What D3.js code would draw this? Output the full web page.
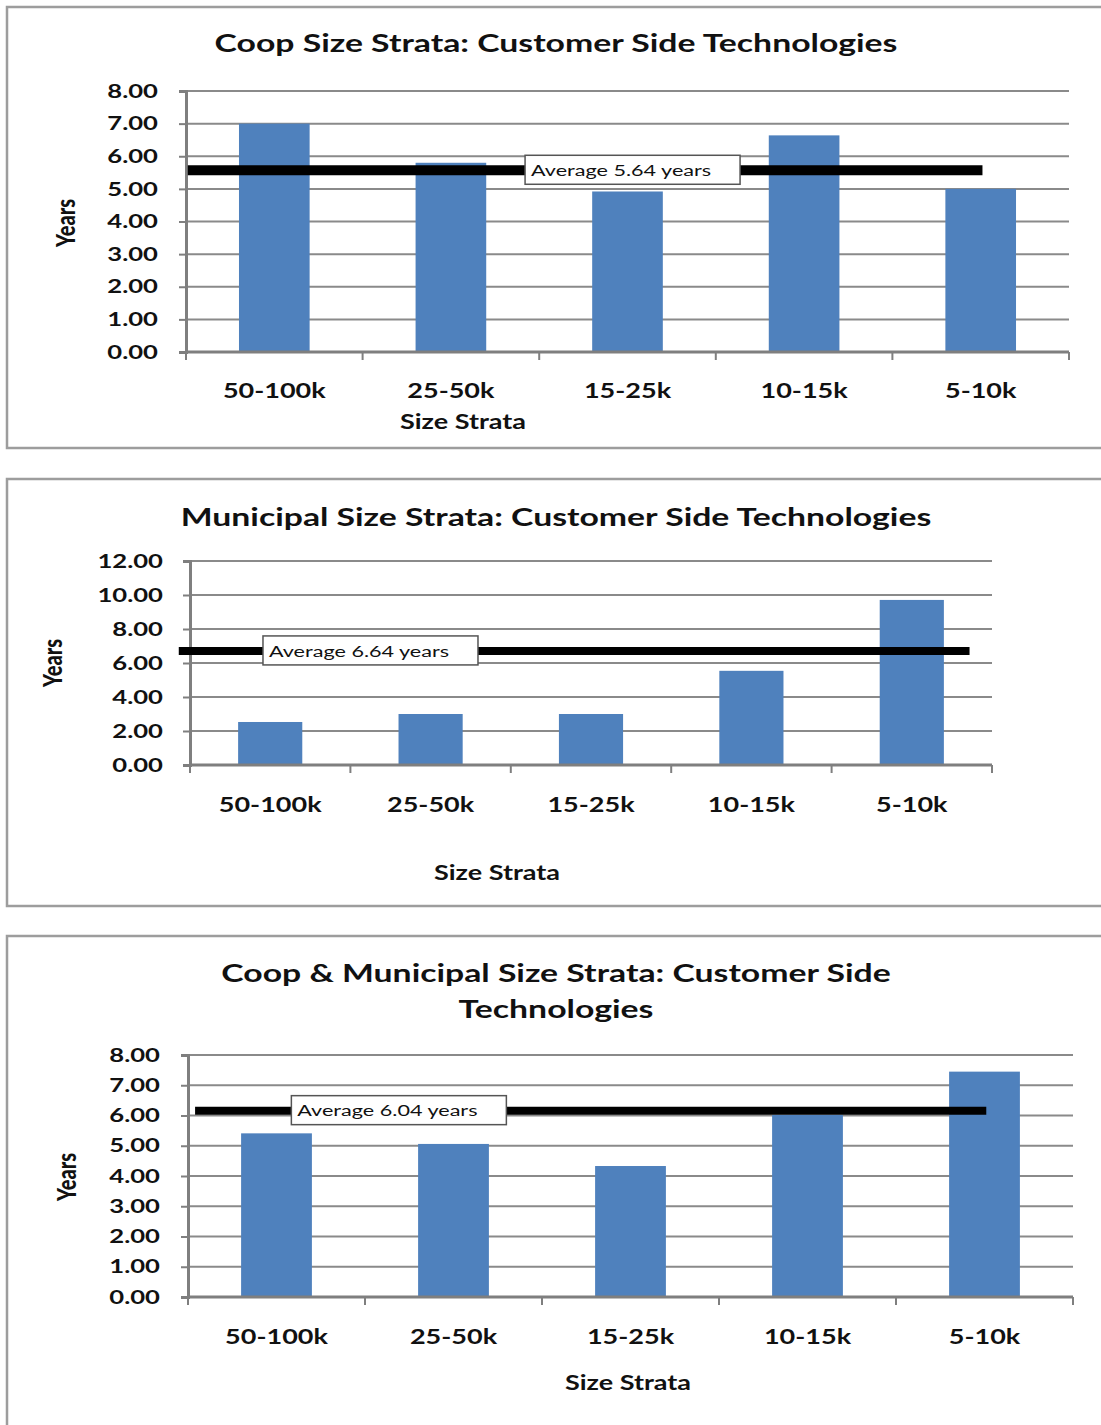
<!DOCTYPE html>
<html>
<head>
<meta charset="utf-8">
<script src="https://cdn.jsdelivr.net/npm/d3@7"></script>
<style>
  body { margin: 0; background: #fff; }
  text { font-family: Lato, "Open Sans", sans-serif; fill: #111; }
</style>
</head>
<body>
<div id="visual"></div>
<script>
// data
var categories = ["50-100k", "25-50k", "15-25k", "10-15k", "5-10k"];
var coopYears = [7.00, 5.80, 4.92, 6.64, 5.00];
var muniYears = [2.53, 3.00, 3.00, 5.54, 9.71];
var bothYears = [5.41, 5.06, 4.33, 6.02, 7.45];
var coopTicks = [0, 1, 2, 3, 4, 5, 6, 7, 8];
var muniTicks = [0, 2, 4, 6, 8, 10, 12];
var bothTicks = [0, 1, 2, 3, 4, 5, 6, 7, 8];
var avgLevels = [5.57, 6.71, 6.16];   // where the black line sits
var avgLabels = ["Average 5.64 years", "Average 6.64 years", "Average 6.04 years"];
var titles = [
  ["Coop Size Strata: Customer Side Technologies"],
  ["Municipal Size Strata: Customer Side Technologies"],
  ["Coop & Municipal Size Strata: Customer Side", "Technologies"]
];

var SX = 1.35;   // the source picture is stretched sideways
var barColor = "#4F81BD", gridColor = "#8a8a8a";

var svg = d3.select("#visual").append("svg")
  .attr("width", 1101)
  .attr("height", 1425);

// layout of each panel (pixels)
var panels = [
  { values: coopYears, ticks: coopTicks, avg: avgLevels[0], avgText: avgLabels[0], title: titles[0],
    box: [7, 7, 441], left: 186, right: 1069, top: 91, bottom: 352, titleY: [43],
    tickRight: 158, catY: 391, axisTitle: [463, 422], yTitle: [66, 223],
    line: [0.01, 4.51], lineW: 10, tag: 1.92 },
  { values: muniYears, ticks: muniTicks, avg: avgLevels[1], avgText: avgLabels[1], title: titles[1],
    box: [7, 479, 427], left: 190, right: 992, top: 561, bottom: 765, titleY: [517],
    tickRight: 163, catY: 805, axisTitle: [497, 873], yTitle: [53, 663],
    line: [-0.07, 4.86], lineW: 8, tag: 0.455 },
  { values: bothYears, ticks: bothTicks, avg: avgLevels[2], avgText: avgLabels[2], title: titles[2],
    box: [7, 936, 500], left: 188, right: 1073, top: 1055, bottom: 1297, titleY: [973, 1009],
    tickRight: 160, catY: 1337, axisTitle: [628, 1383], yTitle: [67, 1177],
    line: [0.04, 4.51], lineW: 8, tag: 0.584 }
];

function label(g, txt, x, y, size, weight, anchor) {
  return g.append("text")
    .attr("transform", "translate(" + x + "," + y + ") scale(" + SX + ",1)")
    .attr("dy", "0.35em")
    .attr("text-anchor", anchor || "middle")
    .style("font-size", size + "px")
    .style("font-weight", weight)
    .text(txt);
}

panels.forEach(function(p) {
  var g = svg.append("g");

  // chart area border
  g.append("rect")
    .attr("x", p.box[0]).attr("y", p.box[1])
    .attr("width", 1120).attr("height", p.box[2])
    .attr("fill", "#fff")
    .attr("stroke", "#9d9d9d")
    .attr("stroke-width", 2.5);

  var x = d3.scaleBand()
    .domain(categories)
    .range([p.left, p.right])
    .paddingInner(0.6)
    .paddingOuter(0.3);
  var y = d3.scaleLinear()
    .domain([0, d3.max(p.ticks)])
    .range([p.bottom, p.top]);
  var step = x.step();

  // gridlines
  g.selectAll(".grid")
    .data(p.ticks.slice(1))
    .enter().append("line")
    .attr("x1", p.left).attr("x2", p.right)
    .attr("y1", function(d) { return y(d); })
    .attr("y2", function(d) { return y(d); })
    .attr("stroke", gridColor)
    .attr("stroke-width", 2);

  // bars
  g.selectAll(".bar")
    .data(p.values)
    .enter().append("rect")
    .attr("x", function(d, i) { return x(categories[i]); })
    .attr("width", x.bandwidth())
    .attr("y", function(d) { return y(d); })
    .attr("height", function(d) { return y(0) - y(d); })
    .attr("fill", barColor);

  // y axis
  var yAxis = g.append("g")
    .attr("transform", "translate(" + p.left + ",0)")
    .call(d3.axisLeft(y).tickValues(p.ticks).tickSize(7).tickFormat(""));
  yAxis.select(".domain").attr("stroke", "#7f7f7f").attr("stroke-width", 3);
  yAxis.selectAll(".tick line").attr("stroke", "#7f7f7f").attr("stroke-width", 2);

  p.ticks.forEach(function(t) {
    label(g, d3.format(".2f")(t), p.tickRight, y(t), 19, 700, "end");
  });

  // x axis with ticks between categories
  g.append("line")
    .attr("x1", p.left).attr("x2", p.right)
    .attr("y1", y(0)).attr("y2", y(0))
    .attr("stroke", "#7f7f7f").attr("stroke-width", 3);
  g.selectAll(".xtick")
    .data(d3.range(categories.length + 1))
    .enter().append("line")
    .attr("x1", function(i) { return p.left + i * step; })
    .attr("x2", function(i) { return p.left + i * step; })
    .attr("y1", y(0)).attr("y2", y(0) + 8)
    .attr("stroke", "#7f7f7f").attr("stroke-width", 2);

  categories.forEach(function(c) {
    label(g, c, x(c) + x.bandwidth() / 2, p.catY, 20, 700);
  });

  // titles
  p.title.forEach(function(t, i) {
    label(g, t, 556, p.titleY[i], 25, 700);
  });
  label(g, "Size Strata", p.axisTitle[0], p.axisTitle[1], 20, 700);

  g.append("text")
    .attr("transform", "translate(" + p.yTitle[0] + "," + p.yTitle[1] + ") rotate(-90) scale(1," + SX + ")")
    .attr("dy", "0.35em")
    .attr("text-anchor", "middle")
    .style("font-size", "20px")
    .style("font-weight", 900)
    .text("Years");

  // average line and its tag
  g.append("line")
    .attr("x1", p.left + p.line[0] * step)
    .attr("x2", p.left + p.line[1] * step)
    .attr("y1", y(p.avg)).attr("y2", y(p.avg))
    .attr("stroke", "#000")
    .attr("stroke-width", p.lineW);

  var bx = p.left + p.tag * step;
  g.append("rect")
    .attr("x", bx).attr("y", y(p.avg) - 15)
    .attr("width", 215).attr("height", 29)
    .attr("fill", "#fff")
    .attr("stroke", "#555")
    .attr("stroke-width", 1.5);
  label(g, p.avgText, bx + 6, y(p.avg), 16, 400, "start");
});
</script>
</body>
</html>
